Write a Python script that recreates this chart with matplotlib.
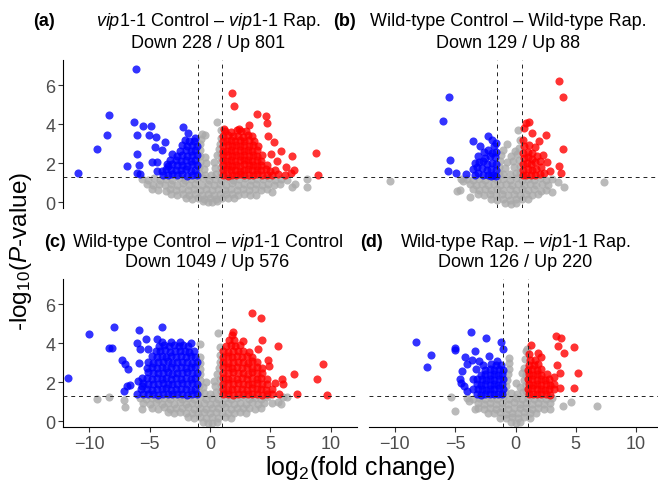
import matplotlib
matplotlib.use("Agg")
import matplotlib.pyplot as plt

plt.rcParams['font.family'] = ['Liberation Sans', 'DejaVu Sans']
plt.rcParams['mathtext.fontset'] = 'custom'
plt.rcParams['mathtext.rm'] = 'Liberation Sans'
plt.rcParams['mathtext.it'] = 'Liberation Sans:italic'
plt.rcParams['mathtext.bf'] = 'Liberation Sans:bold'

# thresholds
fc_cut = 1.0
p_cut = 1.301  # -log10(0.05)

# ---------------- panel (a): vip1-1 Control - vip1-1 Rap.
a_ns = [
    (-5.65, 1.19), (-5.1, 1.15), (-4.6, 1.22), (-4.1, 1.12), (-3.6, 1.2), (-3.1, 1.16), (-2.6, 1.24),
    (-2.1, 1.13), (-1.6, 1.21), (-1.1, 1.17), (-0.6, 1.23), (-0.1, 1.14), (0.4, 1.2), (0.9, 1.16),
    (1.4, 1.22), (1.9, 1.12), (2.4, 1.19), (2.9, 1.25), (3.4, 1.14), (3.9, 1.2), (4.4, 1.17),
    (4.9, 1.23), (5.4, 1.13), (5.9, 1.2), (6.4, 1.16), (8.04, 1.19),
    (-5.2, 0.92), (-4.7, 0.88), (-4.2, 0.95), (-3.7, 0.86), (-3.2, 0.93), (-2.7, 0.9), (-2.2, 0.96),
    (-1.7, 0.87), (-1.2, 0.92), (-0.7, 0.89), (-0.2, 0.95), (0.3, 0.88), (0.8, 0.93), (1.3, 0.9),
    (1.8, 0.96), (2.3, 0.87), (2.8, 0.92), (3.3, 0.89), (3.8, 0.95), (4.3, 0.88), (4.8, 0.92),
    (5.3, 0.9), (5.8, 0.94), (7.0, 0.93), (6.75, 0.79), (8.0, 0.77),
    (-4.8, 0.7), (-4.3, 0.63), (-3.64, 0.58), (-3.3, 0.67), (-2.8, 0.62), (-2.3, 0.68), (-1.8, 0.64),
    (-1.3, 0.66), (-0.8, 0.61), (-0.3, 0.69), (0.2, 0.63), (0.7, 0.67), (1.2, 0.62), (1.7, 0.68),
    (2.2, 0.64), (2.7, 0.66), (3.2, 0.61), (3.7, 0.67), (4.2, 0.63), (4.7, 0.66), (5.1, 0.52),
    (-3.2, 0.42), (-2.7, 0.38), (-2.2, 0.44), (-1.7, 0.37), (-1.2, 0.41), (-0.7, 0.39), (-0.2, 0.43),
    (0.3, 0.38), (0.8, 0.42), (1.3, 0.4), (1.8, 0.44), (2.3, 0.37), (2.8, 0.41), (3.3, 0.39), (3.8, 0.36),
    (-2.0, 0.22), (-1.5, 0.18), (-1.0, 0.2), (-0.5, 0.16), (0.0, 0.21), (0.5, 0.17), (1.0, 0.22),
    (1.5, 0.19), (2.0, 0.23), (-0.6, 0.04), (-0.2, 0.0), (0.2, 0.02), (0.6, 0.05),
    (-0.9, 1.48), (-0.45, 1.42), (0.05, 1.38), (0.5, 1.45), (0.92, 1.52), (-0.88, 1.78), (-0.5, 1.7),
    (0.45, 1.75), (0.9, 1.82), (-0.85, 2.08), (-0.35, 2.0), (0.35, 2.05), (0.88, 2.12), (-0.8, 2.38),
    (-0.45, 2.3), (0.6, 2.42), (0.92, 2.45), (-0.85, 2.68), (0.75, 2.72), (-0.8, 2.98), (0.85, 3.0),
    (-0.75, 3.25), (0.9, 3.3), (-0.69, 3.5), (-0.4, 3.45), (0.55, 4.1), (0.95, 3.7),
]
a_down = [
    (-6.12, 6.82), (-8.32, 4.48), (-8.54, 3.44), (-9.37, 2.75), (-10.9, 1.49), (-6.28, 4.1),
    (-5.51, 3.93), (-4.88, 3.93), (-6.0, 3.44), (-5.02, 3.45), (-4.49, 3.37), (-3.69, 3.09),
    (-4.52, 2.85), (-3.99, 2.7), (-6.03, 2.46), (-6.83, 1.86), (-5.84, 1.91), (-6.06, 1.49),
    (-5.79, 1.44), (-4.82, 2.08), (-4.41, 2.05), (-4.36, 1.61), (-2.2, 3.85), (-1.79, 3.54), (-3.58, 1.96),
    (-1.1, 1.38), (-1.5, 1.42), (-1.9, 1.36), (-2.3, 1.44), (-2.7, 1.39), (-3.1, 1.43), (-3.5, 1.37), (-3.9, 1.41),
    (-1.2, 1.66), (-1.6, 1.62), (-2.0, 1.68), (-2.4, 1.63), (-2.8, 1.67), (-3.2, 1.64), (-3.6, 1.69), (-4.0, 1.62),
    (-1.1, 1.9), (-1.5, 1.94), (-1.9, 1.88), (-2.3, 1.93), (-2.7, 1.89), (-3.1, 1.95), (-3.5, 1.87),
    (-1.2, 2.16), (-1.6, 2.12), (-2.0, 2.18), (-2.4, 2.13), (-2.8, 2.17), (-3.3, 2.14),
    (-1.1, 2.4), (-1.5, 2.44), (-1.9, 2.38), (-2.3, 2.42), (-2.7, 2.37), (-3.1, 2.45),
    (-1.2, 2.66), (-1.6, 2.62), (-2.0, 2.68), (-2.5, 2.63),
    (-1.1, 2.9), (-1.5, 2.94), (-1.9, 2.88), (-2.3, 2.92),
    (-1.3, 3.16), (-1.7, 3.12), (-2.1, 3.18), (-1.2, 3.3),
]
a_up = [
    (1.79, 5.62), (1.98, 4.96), (3.91, 4.54), (4.63, 4.4), (4.68, 4.07), (3.25, 3.98), (2.42, 3.76),
    (1.18, 3.76), (4.82, 3.42), (5.29, 3.11), (5.87, 2.61), (6.75, 2.37), (8.76, 2.53), (8.9, 1.39),
    (5.56, 2.1), (6.28, 1.82), (6.94, 1.65), (6.67, 1.48), (5.01, 2.47),
    (1.1, 1.4), (1.45, 1.36), (1.8, 1.42), (2.15, 1.38), (2.5, 1.43), (2.85, 1.37), (3.2, 1.41),
    (3.55, 1.39), (3.9, 1.44), (4.3, 1.37), (4.7, 1.42), (5.1, 1.38), (5.6, 1.43), (6.2, 1.4),
    (1.05, 1.65), (1.4, 1.68), (1.75, 1.63), (2.1, 1.67), (2.45, 1.62), (2.8, 1.66), (3.15, 1.69),
    (3.5, 1.63), (3.85, 1.67), (4.2, 1.64), (4.6, 1.68), (5.0, 1.62), (5.4, 1.66),
    (1.1, 1.9), (1.45, 1.93), (1.8, 1.88), (2.15, 1.92), (2.5, 1.87), (2.85, 1.94), (3.2, 1.89),
    (3.55, 1.91), (3.9, 1.88), (4.25, 1.93), (4.7, 1.9),
    (1.05, 2.15), (1.4, 2.12), (1.75, 2.18), (2.1, 2.13), (2.45, 2.17), (2.8, 2.14), (3.15, 2.19),
    (3.5, 2.12), (3.85, 2.16), (4.2, 2.13),
    (1.1, 2.4), (1.45, 2.43), (1.8, 2.38), (2.15, 2.42), (2.5, 2.37), (2.85, 2.44), (3.2, 2.39),
    (3.55, 2.41), (3.9, 2.38), (4.3, 2.42),
    (1.05, 2.65), (1.4, 2.62), (1.75, 2.68), (2.1, 2.63), (2.45, 2.67), (2.8, 2.64), (3.15, 2.69),
    (3.5, 2.62), (3.85, 2.66),
    (1.1, 2.9), (1.45, 2.93), (1.8, 2.88), (2.15, 2.92), (2.5, 2.87), (2.85, 2.94), (3.2, 2.89),
    (3.55, 2.91), (4.0, 2.88),
    (1.05, 3.15), (1.4, 3.12), (1.75, 3.18), (2.1, 3.13), (2.45, 3.17), (2.8, 3.14), (3.2, 3.19), (3.6, 3.12),
    (1.1, 3.4), (1.5, 3.43), (1.9, 3.38), (2.3, 3.42), (2.7, 3.37), (3.1, 3.44), (3.5, 3.39),
    (1.2, 3.65), (1.7, 3.62), (2.2, 3.68), (2.6, 3.63), (3.0, 3.66),
]

# ---------------- panel (b): Wild-type Control - Wild-type Rap.
b_ns = [
    (-9.93, 1.1), (7.8, 1.05), (4.53, 0.76), (3.49, 0.5), (2.59, 0.58), (4.04, 1.01),
    (-4.37, 0.58), (-4.1, 0.65), (-3.82, 1.1), (-3.26, 0.26),
    (-4.0, 1.17), (-3.5, 1.21), (-3.0, 1.14), (-2.5, 1.2), (-2.0, 1.16), (-1.5, 1.23), (-1.0, 1.13),
    (-0.5, 1.19), (0.0, 1.15), (0.5, 1.22), (1.0, 1.14), (1.5, 1.2), (2.0, 1.16), (2.5, 1.23),
    (3.0, 1.13), (3.5, 1.18),
    (-3.3, 0.92), (-2.8, 0.88), (-2.3, 0.94), (-1.8, 0.87), (-1.3, 0.93), (-0.8, 0.9), (-0.3, 0.95),
    (0.2, 0.88), (0.7, 0.92), (1.2, 0.89), (1.7, 0.94), (2.2, 0.87), (2.7, 0.91), (3.2, 0.9),
    (-3.0, 0.66), (-2.5, 0.62), (-2.0, 0.68), (-1.5, 0.63), (-1.0, 0.67), (-0.5, 0.61), (0.0, 0.66),
    (0.5, 0.63), (1.0, 0.68), (1.5, 0.62), (2.0, 0.66), (3.0, 0.64),
    (-2.6, 0.42), (-2.1, 0.38), (-1.6, 0.43), (-1.1, 0.37), (-0.6, 0.41), (-0.1, 0.39), (0.4, 0.43),
    (0.9, 0.38), (1.4, 0.42), (1.9, 0.37), (2.4, 0.4),
    (-1.5, 0.17), (-1.0, 0.13), (-0.5, 0.18), (0.0, 0.12), (0.5, 0.16), (1.0, 0.14), (1.5, 0.18),
    (-0.4, -0.04), (0.1, -0.07), (0.5, -0.03),
    (-0.9, 1.5), (-0.5, 1.47), (0.0, 1.43), (0.5, 1.5), (0.9, 1.55), (-0.85, 1.8), (-0.4, 1.75),
    (0.4, 1.8), (0.85, 1.85), (-0.8, 2.1), (-0.2, 2.05), (0.3, 2.1), (0.8, 2.15), (-0.7, 2.4),
    (0.1, 2.35), (0.6, 2.45), (-0.5, 2.7), (0.45, 2.64), (0.8, 2.8), (-0.23, 3.0), (0.73, 3.68),
    (0.9, 3.2),
]
b_down = [
    (-5.0, 5.38), (-5.5, 4.19), (-3.02, 3.14), (-1.78, 3.42), (-1.47, 3.2), (-2.44, 2.9),
    (-1.75, 2.68), (-2.58, 2.39), (-4.92, 2.16), (-5.08, 1.58), (-4.42, 1.49), (-3.6, 1.44),
    (-2.85, 1.41), (-1.53, 1.33),
    (-1.1, 1.36), (-1.4, 1.4), (-1.8, 1.38), (-2.2, 1.42), (-2.6, 1.5),
    (-1.15, 1.65), (-1.5, 1.7), (-1.9, 1.65), (-2.3, 1.75), (-2.7, 1.8),
    (-1.1, 1.95), (-1.45, 2.0), (-1.85, 1.95), (-2.2, 2.1), (-2.5, 2.05),
    (-1.2, 2.3), (-1.6, 2.35), (-2.0, 2.25), (-1.1, 2.6), (-1.45, 2.55), (-1.3, 2.9),
    (-1.15, 3.05), (-2.1, 2.6), (-3.0, 1.7), (-2.9, 2.0),
]
b_up = [
    (4.12, 6.22), (4.4, 5.39), (1.36, 4.06), (1.6, 4.1), (1.2, 3.81), (1.83, 3.54), (3.02, 3.47),
    (2.47, 3.16), (2.11, 2.85), (4.4, 2.73), (2.8, 2.44), (3.07, 2.05), (4.12, 1.87), (3.35, 1.61),
    (4.26, 1.49),
    (1.1, 1.4), (1.4, 1.38), (1.75, 1.42), (2.1, 1.4), (2.5, 1.45), (2.85, 1.5),
    (1.15, 1.65), (1.5, 1.7), (1.85, 1.65), (2.2, 1.72), (2.6, 1.8),
    (1.1, 1.95), (1.45, 2.0), (1.8, 1.95), (2.15, 2.05), (2.5, 2.1),
    (1.2, 2.25), (1.55, 2.3), (1.9, 2.2), (2.3, 2.35), (1.1, 2.55), (1.5, 2.6), (1.85, 2.5),
    (1.2, 2.9), (1.6, 2.95), (1.1, 3.2),
]

# ---------------- panel (c): Wild-type Control - vip1-1 Control
c_ns = [
    (-9.31, 1.13), (-8.32, 1.25), (-7.1, 1.1), (-7.0, 0.72), (-5.65, 0.65),
    (6.39, 1.25), (5.65, 0.99), (5.9, 0.87), (5.1, 0.91), (6.06, 1.25),
    (-5.8, 1.18), (-5.3, 1.14), (-4.8, 1.21), (-4.3, 1.13), (-3.8, 1.19), (-3.3, 1.15), (-2.8, 1.22),
    (-2.3, 1.12), (-1.8, 1.2), (-1.3, 1.16), (-0.8, 1.23), (-0.3, 1.14), (0.2, 1.2), (0.7, 1.15),
    (1.2, 1.21), (1.7, 1.13), (2.2, 1.19), (2.7, 1.24), (3.2, 1.14), (3.7, 1.2), (4.2, 1.16), (4.7, 1.22),
    (-5.5, 0.93), (-5.0, 0.89), (-4.5, 0.96), (-4.0, 0.88), (-3.5, 0.94), (-3.0, 0.9), (-2.5, 0.97),
    (-2.0, 0.87), (-1.5, 0.93), (-1.0, 0.89), (-0.5, 0.95), (0.0, 0.9), (0.5, 0.94), (1.0, 0.88),
    (1.5, 0.95), (2.0, 0.89), (2.5, 0.93), (3.0, 0.9), (3.5, 0.96), (4.0, 0.88), (4.5, 0.92),
    (-4.8, 0.7), (-4.3, 0.65), (-3.8, 0.71), (-3.3, 0.64), (-2.8, 0.69), (-2.3, 0.66), (-1.8, 0.72),
    (-1.3, 0.65), (-0.8, 0.68), (-0.3, 0.64), (0.2, 0.7), (0.7, 0.66), (1.2, 0.71), (1.7, 0.64),
    (2.2, 0.69), (2.7, 0.66), (3.2, 0.7), (3.7, 0.65), (4.2, 0.68),
    (-3.5, 0.45), (-3.0, 0.41), (-2.5, 0.46), (-2.0, 0.4), (-1.5, 0.44), (-1.0, 0.42), (-0.5, 0.47),
    (0.0, 0.41), (0.5, 0.45), (1.0, 0.4), (1.5, 0.44), (2.0, 0.42), (2.5, 0.46), (3.0, 0.4),
    (-1.8, 0.2), (-1.3, 0.16), (-0.8, 0.21), (-0.3, 0.15), (0.2, 0.19), (0.7, 0.17), (1.2, 0.21), (1.7, 0.18),
    (-0.6, -0.05), (-0.2, -0.1), (0.2, -0.08), (0.6, -0.04),
    (-0.9, 1.5), (-0.5, 1.45), (0.0, 1.4), (0.5, 1.5), (0.9, 1.55), (-0.9, 1.8), (-0.55, 1.75),
    (0.45, 1.8), (0.9, 1.85), (-0.85, 2.1), (-0.3, 2.0), (0.3, 2.05), (0.85, 2.15), (-0.8, 2.4),
    (0.6, 2.4), (-0.85, 2.7), (0.75, 2.75), (-0.8, 3.0), (0.8, 3.05), (-0.83, 3.3), (0.85, 3.4),
    (-0.83, 3.95), (0.8, 3.8), (0.69, 4.55),
]
c_down = [
    (-11.71, 2.2), (-10.0, 4.46), (-7.9, 4.86), (-5.87, 4.68), (-3.94, 4.84), (-8.32, 3.74),
    (-8.13, 3.74), (-7.27, 3.13), (-7.02, 2.92), (-6.8, 2.7), (-7.1, 1.55), (-6.89, 1.78),
    (-6.6, 1.85), (-6.0, 4.0), (-5.29, 4.24), (-4.41, 4.2), (-5.79, 3.69), (-5.1, 3.7),
    (-5.84, 2.97), (-5.92, 2.07), (-5.6, 1.8), (-6.06, 1.38),
    (-1.1, 1.38), (-1.5, 1.41), (-1.9, 1.36), (-2.3, 1.4), (-2.7, 1.37), (-3.1, 1.42), (-3.5, 1.38),
    (-3.9, 1.41), (-4.3, 1.36), (-4.7, 1.4), (-5.1, 1.37), (-5.5, 1.42),
    (-1.2, 1.65), (-1.6, 1.62), (-2.0, 1.67), (-2.4, 1.63), (-2.8, 1.66), (-3.2, 1.61), (-3.6, 1.68),
    (-4.0, 1.64), (-4.4, 1.66), (-4.8, 1.62), (-5.2, 1.67), (-5.7, 1.64),
    (-1.1, 1.92), (-1.5, 1.95), (-1.9, 1.9), (-2.3, 1.94), (-2.7, 1.89), (-3.1, 1.93), (-3.5, 1.91),
    (-3.9, 1.95), (-4.3, 1.9), (-4.7, 1.93), (-5.1, 1.89), (-5.5, 1.94),
    (-1.2, 2.2), (-1.6, 2.17), (-2.0, 2.22), (-2.4, 2.18), (-2.8, 2.21), (-3.2, 2.16), (-3.6, 2.23),
    (-4.0, 2.19), (-4.4, 2.21), (-4.8, 2.17), (-5.2, 2.22), (-5.6, 2.2),
    (-1.1, 2.48), (-1.5, 2.45), (-1.9, 2.5), (-2.3, 2.46), (-2.7, 2.49), (-3.1, 2.44), (-3.5, 2.51),
    (-3.9, 2.47), (-4.3, 2.49), (-4.7, 2.45), (-5.1, 2.5),
    (-1.2, 2.76), (-1.6, 2.79), (-2.0, 2.74), (-2.4, 2.78), (-2.8, 2.73), (-3.2, 2.77), (-3.6, 2.75),
    (-4.0, 2.79), (-4.4, 2.74), (-4.8, 2.77), (-5.2, 2.73),
    (-1.1, 3.04), (-1.5, 3.01), (-1.9, 3.06), (-2.3, 3.02), (-2.7, 3.05), (-3.1, 3.0), (-3.5, 3.07),
    (-3.9, 3.03), (-4.3, 3.05), (-4.7, 3.01), (-5.1, 3.06),
    (-1.2, 3.32), (-1.6, 3.35), (-2.0, 3.3), (-2.4, 3.34), (-2.8, 3.29), (-3.2, 3.33), (-3.6, 3.31),
    (-4.0, 3.35), (-4.4, 3.3), (-4.8, 3.33),
    (-1.3, 3.6), (-1.7, 3.57), (-2.1, 3.62), (-2.5, 3.58), (-2.9, 3.61), (-3.3, 3.56), (-3.7, 3.63),
    (-4.1, 3.59), (-4.5, 3.61),
    (-1.8, 3.88), (-2.2, 3.91), (-2.6, 3.86), (-3.0, 3.9), (-3.4, 3.85), (-3.8, 3.92), (-4.2, 3.87),
    (-1.6, 4.02), (-2.5, 4.06), (-3.2, 4.04), (-4.0, 4.05),
]
c_up = [
    (3.44, 5.57), (4.21, 5.32), (1.93, 4.58), (4.27, 4.15), (5.59, 3.86), (2.75, 4.12), (4.0, 3.73),
    (4.82, 3.14), (4.9, 2.84), (6.97, 2.41), (9.37, 2.92), (8.82, 2.15), (5.92, 2.15), (5.37, 1.95),
    (6.0, 1.9), (7.16, 1.38), (9.64, 1.32), (5.73, 1.38),
    (1.1, 1.38), (1.5, 1.41), (1.9, 1.36), (2.3, 1.4), (2.7, 1.37), (3.1, 1.42), (3.5, 1.38),
    (3.9, 1.41), (4.3, 1.36), (4.7, 1.4), (5.1, 1.37),
    (1.05, 1.65), (1.45, 1.62), (1.85, 1.67), (2.25, 1.63), (2.65, 1.66), (3.05, 1.61), (3.45, 1.68),
    (3.85, 1.64), (4.25, 1.66), (4.65, 1.62), (5.1, 1.67),
    (1.1, 1.92), (1.5, 1.95), (1.9, 1.9), (2.3, 1.94), (2.7, 1.89), (3.1, 1.93), (3.5, 1.91),
    (3.9, 1.95), (4.3, 1.9), (4.7, 1.93),
    (1.05, 2.2), (1.45, 2.17), (1.85, 2.22), (2.25, 2.18), (2.65, 2.21), (3.05, 2.16), (3.45, 2.23),
    (3.85, 2.19), (4.25, 2.21), (4.7, 2.17),
    (1.1, 2.48), (1.5, 2.45), (1.9, 2.5), (2.3, 2.46), (2.7, 2.49), (3.1, 2.44), (3.5, 2.51),
    (3.9, 2.47), (4.3, 2.49),
    (1.05, 2.76), (1.45, 2.79), (1.85, 2.74), (2.25, 2.78), (2.65, 2.73), (3.05, 2.77), (3.45, 2.75),
    (3.85, 2.79), (4.3, 2.74),
    (1.1, 3.04), (1.5, 3.01), (1.9, 3.06), (2.3, 3.02), (2.7, 3.05), (3.1, 3.0), (3.5, 3.07), (3.9, 3.03),
    (1.05, 3.32), (1.45, 3.35), (1.85, 3.3), (2.25, 3.34), (2.65, 3.29), (3.05, 3.33), (3.5, 3.31),
    (1.1, 3.6), (1.5, 3.57), (1.9, 3.62), (2.3, 3.58), (2.7, 3.61), (3.2, 3.56),
    (1.3, 3.88), (1.7, 3.91), (2.1, 3.86), (2.5, 3.9), (1.6, 4.15), (2.0, 4.18), (1.8, 4.4),
]

# ---------------- panel (d): Wild-type Rap. - vip1-1 Rap.
d_ns = [
    (6.75, 0.79), (4.63, 0.96), (3.94, 0.79), (2.89, 0.62), (-5.37, 1.25), (-5.01, 0.5),
    (-3.86, 1.04), (-3.4, 0.6),
    (-4.0, 1.18), (-3.5, 1.14), (-3.0, 1.21), (-2.5, 1.13), (-2.0, 1.19), (-1.5, 1.15), (-1.0, 1.22),
    (-0.5, 1.13), (0.0, 1.2), (0.5, 1.16), (1.0, 1.21), (1.5, 1.14), (2.0, 1.19), (2.5, 1.16), (3.0, 1.2),
    (-3.1, 0.93), (-2.6, 0.89), (-2.1, 0.95), (-1.6, 0.88), (-1.1, 0.94), (-0.6, 0.9), (-0.1, 0.96),
    (0.4, 0.89), (0.9, 0.93), (1.4, 0.9), (1.9, 0.95), (2.4, 0.88), (2.9, 0.92),
    (-3.1, 0.68), (-2.6, 0.64), (-2.1, 0.7), (-1.6, 0.65), (-1.1, 0.69), (-0.6, 0.63), (-0.1, 0.7),
    (0.4, 0.66), (0.9, 0.69), (1.4, 0.64), (1.9, 0.68), (2.4, 0.65),
    (-2.3, 0.43), (-1.8, 0.4), (-1.3, 0.45), (-0.8, 0.39), (-0.3, 0.44), (0.2, 0.41), (0.7, 0.45),
    (1.2, 0.4), (1.7, 0.43),
    (-1.3, 0.18), (-0.8, 0.15), (-0.3, 0.2), (0.2, 0.14), (0.7, 0.19), (1.2, 0.17),
    (-0.4, -0.04), (0.0, -0.07), (0.4, -0.03),
    (-0.9, 1.5), (-0.4, 1.45), (0.1, 1.4), (0.6, 1.5), (0.9, 1.55), (-0.8, 1.8), (0.4, 1.75),
    (0.85, 1.85), (-0.7, 2.1), (0.0, 1.95), (0.7, 2.1), (-0.6, 2.4), (0.55, 2.45), (0.9, 2.35),
    (-0.5, 2.7), (0.7, 2.75), (-0.55, 3.0), (-0.55, 3.25), (0.8, 3.2), (0.83, 3.6), (0.97, 3.73),
]
d_down = [
    (-8.26, 4.07), (-7.02, 3.38), (-7.3, 2.8), (-5.01, 3.74), (-5.0, 3.65), (-3.72, 4.58),
    (-2.48, 4.26), (-1.24, 4.07), (-1.02, 3.69), (-3.36, 3.61), (-2.23, 3.35), (-4.21, 3.27),
    (-3.64, 3.14), (-4.6, 2.15), (-4.55, 1.95), (-4.27, 1.78), (-4.05, 1.56), (-4.4, 2.58), (-4.05, 2.92),
    (-1.1, 1.4), (-1.45, 1.37), (-1.8, 1.42), (-2.15, 1.38), (-2.5, 1.41), (-2.85, 1.36), (-3.2, 1.4),
    (-1.05, 1.65), (-1.4, 1.68), (-1.75, 1.63), (-2.1, 1.67), (-2.45, 1.62), (-2.8, 1.66), (-3.15, 1.64),
    (-3.5, 1.67),
    (-1.1, 1.9), (-1.45, 1.87), (-1.8, 1.92), (-2.15, 1.88), (-2.5, 1.91), (-2.85, 1.86), (-3.2, 1.9),
    (-1.05, 2.15), (-1.4, 2.18), (-1.75, 2.13), (-2.1, 2.17), (-2.45, 2.12), (-2.8, 2.16), (-3.2, 2.14),
    (-3.55, 2.17),
    (-1.1, 2.4), (-1.45, 2.37), (-1.8, 2.42), (-2.15, 2.38), (-2.5, 2.41), (-2.9, 2.36),
    (-1.05, 2.65), (-1.4, 2.68), (-1.75, 2.63), (-2.1, 2.67), (-2.5, 2.62), (-3.3, 2.66),
    (-1.2, 2.9), (-1.6, 2.87), (-2.0, 2.92), (-2.7, 2.88), (-1.5, 3.1), (-3.0, 3.08),
]
d_up = [
    (3.39, 4.37), (3.77, 4.26), (3.5, 3.86), (3.99, 3.49), (4.82, 3.83), (1.29, 3.9), (1.85, 3.49),
    (2.12, 3.27), (3.44, 2.87), (5.18, 2.46), (3.66, 2.46), (3.17, 2.29), (3.72, 1.68), (4.88, 1.68),
    (1.1, 1.4), (1.45, 1.37), (1.8, 1.42), (2.15, 1.38), (2.5, 1.41), (2.85, 1.36),
    (1.05, 1.65), (1.4, 1.68), (1.75, 1.63), (2.1, 1.67), (2.45, 1.62), (2.8, 1.66), (3.2, 1.64),
    (1.1, 1.9), (1.45, 1.87), (1.8, 1.92), (2.15, 1.88), (2.5, 1.91), (2.85, 1.86), (3.2, 1.9),
    (1.05, 2.15), (1.4, 2.18), (1.75, 2.13), (2.1, 2.17), (2.45, 2.12), (2.8, 2.16),
    (1.1, 2.4), (1.45, 2.37), (1.8, 2.42), (2.15, 2.38), (2.6, 2.41),
    (1.05, 2.65), (1.4, 2.68), (1.75, 2.63), (2.1, 2.67),
    (1.1, 2.9), (1.5, 2.87), (1.9, 2.92), (1.2, 3.15), (1.6, 3.12), (1.1, 3.45),
]

GENE = "$\\it{vip1\u20101}$"
titles = [
    GENE + " Control \u2013 " + GENE + " Rap.",
    "Wild-type Control \u2013 Wild-type Rap.",
    "Wild-type Control \u2013 " + GENE + " Control",
    "Wild-type Rap. \u2013 " + GENE + " Rap.",
]
subtitles = ["Down 228 / Up 801", "Down 129 / Up 88", "Down 1049 / Up 576", "Down 126 / Up 220"]
tags = ["(a)", "(b)", "(c)", "(d)"]
panels = [(a_ns, a_down, a_up), (b_ns, b_down, b_up), (c_ns, c_down, c_up), (d_ns, d_down, d_up)]

W, H = 658, 485
fig = plt.figure(figsize=(W / 100, H / 100), dpi=100)

# axes boxes in pixels: left, top, right, bottom
boxes = [(63, 61, 357, 209), (363, 61, 656, 209), (63, 280, 357, 428), (369, 280, 662, 428)]
# title centres (x, y line1, y line2) and tag left x
title_pos = [(208, 22, 43), (508, 22, 43), (207, 243, 263), (515, 243, 263)]
tag_x = [33, 333, 44, 360]

for i, ((l, t, r, b), (ns, down, up)) in enumerate(zip(boxes, panels)):
    ax = fig.add_axes([l / W, 1 - b / H, (r - l) / W, (b - t) / H])
    for pts, col in [(ns, '#A9A9A9'), (down, '#0000FF'), (up, '#FF0000')]:
        xs, ys = zip(*pts)
        ax.scatter(xs, ys, s=34, c=col, alpha=0.8, linewidths=0, zorder=2)
    dash = dict(color='#222222', lw=0.7, ls=(0, (4, 4)), zorder=3)
    ax.axvline(-fc_cut, **dash)
    ax.axvline(fc_cut, **dash)
    ax.axhline(p_cut, **dash)
    ax.set_xlim(-12.15, 12.15)
    ax.set_ylim(-0.3, 7.3)
    ax.set_xticks([-10, -5, 0, 5, 10])
    ax.set_yticks([0, 2, 4, 6])
    ax.patch.set_alpha(0)
    for s in ['top', 'right']:
        ax.spines[s].set_visible(False)
    left_on = i in (0, 2)
    bottom_on = i in (2, 3)
    ax.spines['left'].set_visible(left_on)
    ax.spines['bottom'].set_visible(bottom_on)
    ax.tick_params(axis='both', colors='#333333', labelcolor='#4D4D4D', labelsize=13,
                   length=3.5, width=0.8, pad=2)
    ax.tick_params(axis='y', left=left_on, labelleft=left_on)
    ax.tick_params(axis='x', bottom=bottom_on, labelbottom=bottom_on)
    for s in ['left', 'bottom']:
        ax.spines[s].set_linewidth(0.8)

    cx, y1, y2 = title_pos[i]
    fig.text(cx / W, 1 - y1 / H, titles[i], ha='center', va='center', fontsize=13)
    fig.text(cx / W, 1 - y2 / H, subtitles[i], ha='center', va='center', fontsize=13)
    fig.text(tag_x[i] / W, 1 - y1 / H, tags[i], ha='left', va='center', fontsize=13,
             fontweight='bold')

fig.text(360 / W, 1 - 468 / H, "log$_2$(fold change)", ha='center', va='center', fontsize=18)
fig.text(21 / W, 1 - 252 / H, "-log$_{10}$($\\it{P}$-value)", ha='center', va='center',
         fontsize=17.5, rotation=90)

fig.savefig('out.png', dpi=100)
